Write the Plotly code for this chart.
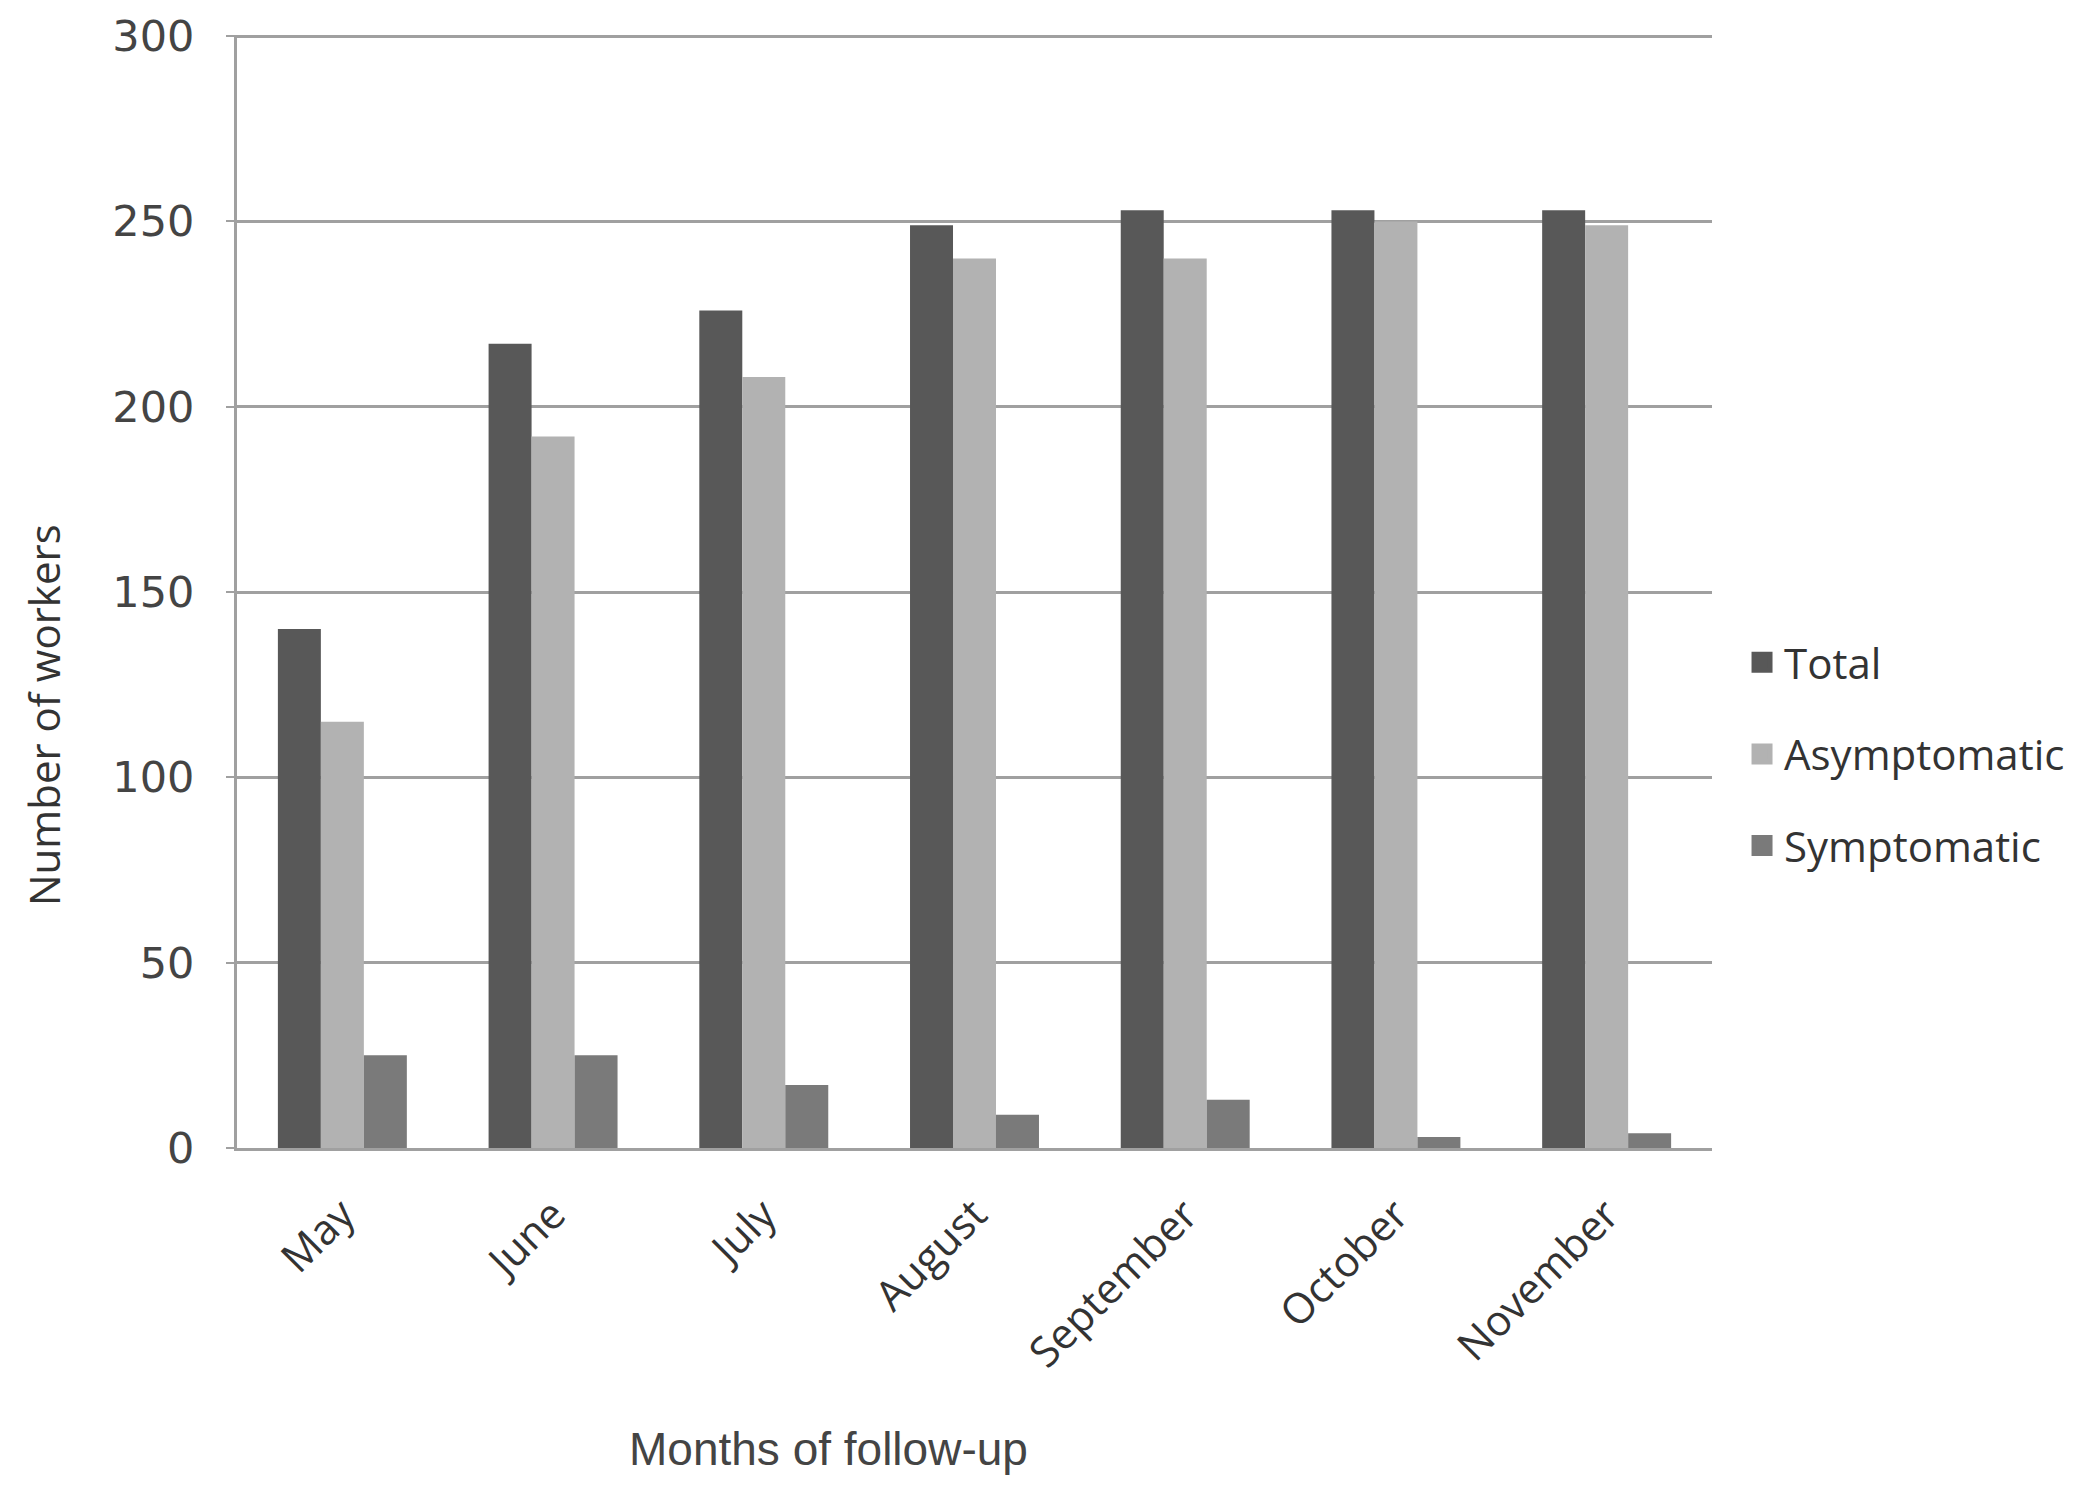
import plotly.graph_objects as go

months = ["May", "June", "July", "August", "September", "October", "November"]
total = [140, 217, 226, 249, 253, 253, 253]
asymptomatic = [115, 192, 208, 240, 240, 250, 249]
symptomatic = [25, 25, 17, 9, 13, 3, 4]
y_ticks = [0, 50, 100, 150, 200, 250, 300]

series = [
    ("Total", total, "#585858"),
    ("Asymptomatic", asymptomatic, "#b2b2b2"),
    ("Symptomatic", symptomatic, "#7a7a7a"),
]

fig = go.Figure()
for name, vals, col in series:
    fig.add_trace(go.Bar(x=months, y=vals, name=name, marker=dict(color=col, line=dict(width=0)),
                         showlegend=False))
for i, (name, vals, col) in enumerate(series):
    fig.add_trace(go.Scatter(x=[None], y=[None], mode="markers", name=name,
                             legendgroup=f"g{i}",
                             marker=dict(symbol="square", size=16, color=col,
                                         line=dict(width=5, color=col))))

fig.update_layout(
    width=2097, height=1498,
    margin=dict(l=229, r=393, t=27, b=358),
    paper_bgcolor="white", plot_bgcolor="white",
    barmode="group", bargap=0.388, bargroupgap=0,
    font=dict(family="Open Sans", color="#333333"),
    legend=dict(x=1.019, y=0.354, xanchor="left", yanchor="middle",
                font=dict(family="Open Sans", size=42, color="#333333"),
                tracegroupgap=34, itemsizing="trace", itemwidth=34),
    xaxis=dict(showgrid=False, showline=True, linecolor="#a0a0a0", linewidth=3,
               tickangle=-45, ticks="", ticklabelstandoff=22, automargin=False,
               tickfont=dict(family="Open Sans", size=42, color="#333333")),
    yaxis=dict(range=[0, 300.3], tickvals=y_ticks, showgrid=True, gridcolor="#a0a0a0", gridwidth=3,
               showline=True, linecolor="#a0a0a0", linewidth=3, ticks="outside", ticklen=8,
               tickcolor="#a0a0a0", tickwidth=2, ticklabelstandoff=23, zeroline=False,
               automargin=False,
               tickfont=dict(family="DejaVu Sans", size=43, color="#444444")),
    annotations=[
        dict(text="Number of workers", xref="paper", yref="paper", x=-0.1315, y=0.389, xanchor="center",
             yanchor="middle", textangle=-90, showarrow=False,
             font=dict(family="Open Sans", size=42, color="#333333")),
        dict(text="Months of follow-up", xref="paper", yref="paper", x=0.401, y=-0.27,
             xanchor="center", yanchor="middle", showarrow=False,
             font=dict(family="Liberation Sans", size=46, color="#444444")),
    ],
)

fig.write_html("out.html")
